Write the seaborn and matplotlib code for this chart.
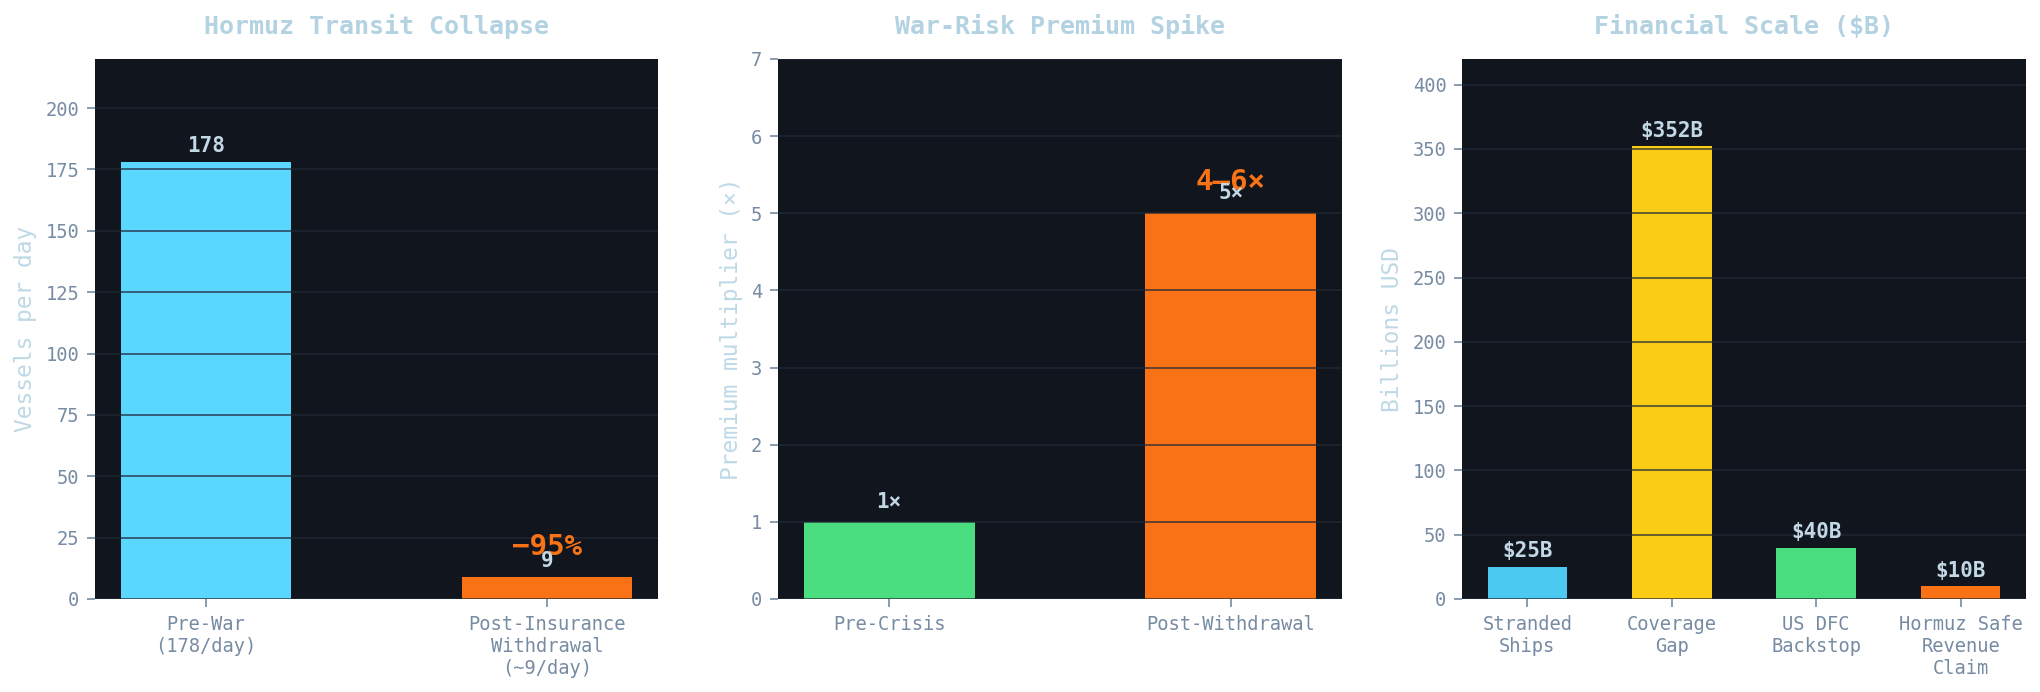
import matplotlib
matplotlib.use("Agg")
import matplotlib.pyplot as plt
import seaborn as sns
import pandas as pd

# ---- data ----
transit_cats = ["Pre-War\n(178/day)", "Post-Insurance\nWithdrawal\n(~9/day)"]
transit_vals = [178, 9]
transit_labels = ["178", "9"]

premium_cats = ["Pre-Crisis", "Post-Withdrawal"]
premium_vals = [1, 5]
premium_labels = ["1×", "5×"]

fin_cats = ["Stranded\nShips", "Coverage\nGap", "US DFC\nBackstop", "Hormuz Safe\nRevenue\nClaim"]
fin_vals = [25, 352, 40, 10]
fin_labels = ["$25B", "$352B", "$40B", "$10B"]

# ---- style ----
BG = "#11151e"
TICK = "#778ba3"
TITLE = "#b3d2e2"
VAL = "#c2d8e5"
ORANGE = "#f97316"
GRID = "#1f2937"

plt.rcParams["font.family"] = ["DejaVu Sans Mono"]

fig, axes = plt.subplots(1, 3, figsize=(13.6, 692 / 150), dpi=150)
W, H = 2040, 692
pos = [(95, 658), (778, 1342), (1462, 2026)]
for ax, (x0, x1) in zip(axes, pos):
    ax.set_position([x0 / W, 1 - 599 / H, (x1 - x0) / W, 540 / H])


def panel(ax, cats, vals, labels, colors, width, ylim, off, title, ylabel):
    df = pd.DataFrame({"cat": cats, "val": vals})
    sns.barplot(data=df, x="cat", y="val", hue="cat", palette=colors,
                width=width, legend=False, ax=ax, saturation=1)
    ax.set_facecolor(BG)
    ax.set_autoscalex_on(True)
    ax.margins(x=0.05)
    ax.autoscale_view(scaley=False)
    ax.set_ylim(0, ylim)
    ax.set_axisbelow("line")
    ax.yaxis.grid(True, color=GRID, alpha=0.8, linewidth=0.8)
    ax.xaxis.grid(False)
    for s in ax.spines.values():
        s.set_visible(False)
    ax.tick_params(colors=TICK, labelsize=9, length=4)
    ax.set_xlabel("")
    ax.set_ylabel(ylabel, color=TITLE, fontsize=11, alpha=0.85)
    ax.set_title(title, color=TITLE, fontsize=12, fontweight="bold", pad=12)
    for i, (v, t) in enumerate(zip(vals, labels)):
        ax.text(i, v + off, t, ha="center", va="bottom", color=VAL,
                fontsize=10, fontweight="bold", zorder=6)


panel(axes[0], transit_cats, transit_vals, transit_labels,
      ["#5ad7ff", ORANGE], 0.5, 220, 2.6, "Hormuz Transit Collapse", "Vessels per day")
axes[0].text(1, 15.5, "−95%", ha="center", va="bottom", color=ORANGE,
             fontsize=14, fontweight="bold", zorder=5)

panel(axes[1], premium_cats, premium_vals, premium_labels,
      ["#4ade80", ORANGE], 0.5, 7, 0.13, "War-Risk Premium Spike", "Premium multiplier (×)")
axes[1].text(1, 5.22, "4–6×", ha="center", va="bottom", color=ORANGE,
             fontsize=14, fontweight="bold", zorder=5)

panel(axes[2], fin_cats, fin_vals, fin_labels,
      ["#4cc9f0", "#facc15", "#4ade80", ORANGE], 0.55, 420, 4.2,
      "Financial Scale ($B)", "Billions USD")

fig.savefig("out.png", dpi=150, facecolor="white")
